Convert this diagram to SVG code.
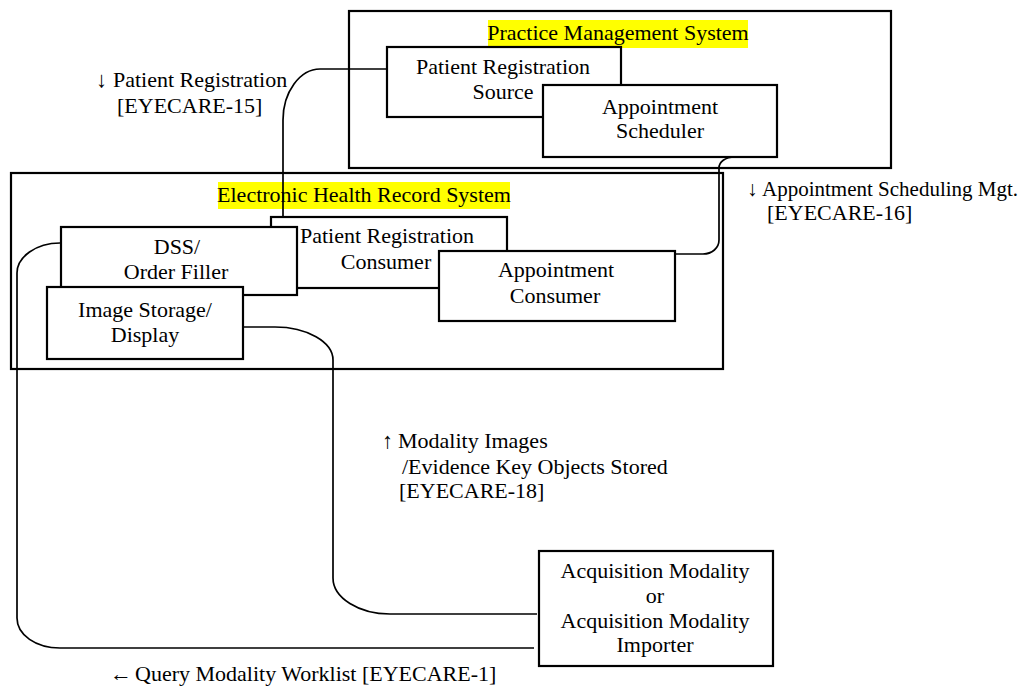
<svg xmlns="http://www.w3.org/2000/svg" width="1028" height="690" viewBox="0 0 1028 690">
<style>
text{font-family:"Liberation Serif","Times New Roman",serif;font-size:22px;fill:#000}
.c{text-anchor:middle}
.box{fill:#fff;stroke:#000;stroke-width:2.2}
.sys{fill:none;stroke:#000;stroke-width:2.2}
.hl{fill:#ffff00}
.con{fill:none;stroke:#000;stroke-width:1.7}
</style>
<rect width="1028" height="690" fill="#fff"/>
<g id="pms">
<rect class="sys" x="349" y="11" width="542" height="157"/>
<rect class="hl" x="488" y="20" width="260" height="28"/>
<text class="c" x="618" y="40">Practice Management System</text>
</g>
<g id="ehr">
<rect class="sys" x="11" y="173" width="712" height="196"/>
<rect class="hl" x="218" y="182" width="292" height="27"/>
<text class="c" x="364" y="202">Electronic Health Record System</text>
</g>
<g id="connectors">
<path class="con" d="M387 69 L320 69 C300 69 283 92 283 120 L283 217"/>
<path class="con" d="M735 157 C725 157 719 162 719 168 L719 240 C719 248 712 254 703 254 L675 254"/>
<path class="con" d="M62 243 L60 243 C36 243 17 257 17 273 L17 618 C17 635 36 648 60 648 L534 648"/>
<path class="con" d="M244 327 L275 327 C307 327 333 342 333 360 L333 578 C333 598 359 614 390 614 L537 614"/>
</g>
<g id="prs">
<rect class="box" x="387" y="47" width="234" height="70"/>
<text class="c" x="503" y="74">Patient Registration</text>
<text class="c" x="503" y="99">Source</text>
</g>
<g id="as">
<rect class="box" x="543" y="85" width="234" height="72"/>
<text class="c" x="660" y="114">Appointment</text>
<text class="c" x="660" y="138">Scheduler</text>
</g>
<g id="prc">
<rect class="box" x="271" y="217" width="236" height="71"/>
<text class="c" x="387" y="243">Patient Registration</text>
<text class="c" x="386" y="269">Consumer</text>
</g>
<g id="dss">
<rect class="box" x="61" y="227" width="236" height="68"/>
<text class="c" x="177" y="254">DSS/</text>
<text class="c" x="176" y="279">Order Filler</text>
</g>
<g id="isd">
<rect class="box" x="47" y="287" width="196" height="72"/>
<text class="c" x="145" y="317">Image Storage/</text>
<text class="c" x="145" y="342">Display</text>
</g>
<g id="ac">
<rect class="box" x="439" y="251" width="236" height="70"/>
<text class="c" x="556" y="277">Appointment</text>
<text class="c" x="555" y="303">Consumer</text>
</g>
<g id="acq">
<rect class="box" x="539" y="551" width="234" height="115"/>
<text class="c" x="655" y="578">Acquisition Modality</text>
<text class="c" x="655" y="603">or</text>
<text class="c" x="655" y="628">Acquisition Modality</text>
<text class="c" x="655" y="652">Importer</text>
</g>
<g id="labels">
<text><tspan x="96" y="87">↓</tspan><tspan x="113" y="87">Patient Registration</tspan></text>
<text x="117" y="113">[EYECARE-15]</text>
<text style="font-size:21px"><tspan x="747" y="196">↓</tspan><tspan x="762" y="196">Appointment Scheduling Mgt.</tspan></text>
<text x="767" y="220">[EYECARE-16]</text>
<text><tspan x="382" y="448">↑</tspan><tspan x="398" y="448">Modality Images</tspan></text>
<text x="402" y="474">/Evidence Key Objects Stored</text>
<text x="399" y="498">[EYECARE-18]</text>
<text><tspan x="110" y="681">←</tspan><tspan x="135" y="681">Query Modality Worklist [EYECARE-1]</tspan></text>
</g>
</svg>
